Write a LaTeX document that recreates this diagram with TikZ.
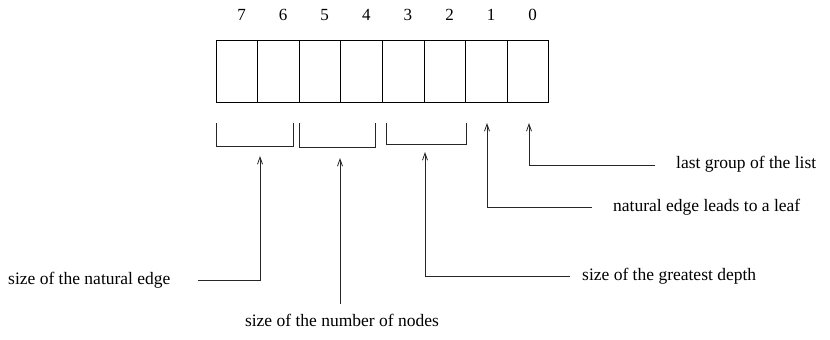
\documentclass[tikz,border=0pt]{standalone}
\usepackage{fontspec}
\setmainfont{Liberation Serif}
\usetikzlibrary{arrows.meta}
\begin{document}
\begin{tikzpicture}[x=1pt,y=-1pt,
  cell/.style={draw,line width=0.8pt,minimum width=41.6pt,minimum height=62pt,inner sep=0pt,outer sep=0pt},
  bitnum/.style={font=\fontsize{17}{20}\selectfont,inner sep=0pt},
  lbl/.style={font=\fontsize{17.5}{20}\selectfont,inner sep=0pt},
  ln/.style={line width=0.8pt,draw=black!85},
  arr/.style={ln,-{Straight Barb[length=7pt,width=5pt,line width=0.8pt]}}]
\useasboundingbox (0,0) rectangle (830,340);
% cells
\foreach \i/\b in {0/7,1/6,2/5,3/4,4/3,5/2,6/1,7/0}{
  \node[cell] (c\b) at ({236.8+41.6*\i},71) {};
  \node[bitnum] (n\b) at ({241.5+41.6*\i},15) {\b};
}
% brackets
\draw[ln] (216,123) coordinate (b1l) -- (216,146) -- (293,146) -- (293,123) coordinate (b1r);
\draw[ln] (299,123) coordinate (b2l) -- (299,147) -- (375,147) -- (375,123) coordinate (b2r);
\draw[ln] (386,123) coordinate (b3l) -- (386,144) -- (466,144) -- (466,123) coordinate (b3r);
% arrow tips
\coordinate (t1) at (260,156);
\coordinate (t2) at (340,158);
\coordinate (t3) at (425,152);
\coordinate (t4) at (487,123);
\coordinate (t5) at (529,123);
% labels
\node[lbl,anchor=west] (l1) at (8,280) {size of the natural edge};
\node[lbl,anchor=north] (l2) at (342,314) {size of the number of nodes};
\node[lbl,anchor=west] (l3) at (582,276) {size of the greatest depth};
\node[lbl,anchor=west] (l4) at (613,207) {natural edge leads to a leaf};
\node[lbl,anchor=west] (l5) at (676,164) {last group of the list};
% line ends
\coordinate (e1) at (198,280);
\coordinate (e2) at (340,304);
\coordinate (e3) at (570,276);
\coordinate (e4) at (592,207);
\coordinate (e5) at (655,165);
\draw[arr] (e1) -| (t1);
\draw[arr] (e2) -- (t2);
\draw[arr] (e3) -| (t3);
\draw[arr] (e4) -| (t4);
\draw[arr] (e5) -| (t5);
\end{tikzpicture}
\end{document}
